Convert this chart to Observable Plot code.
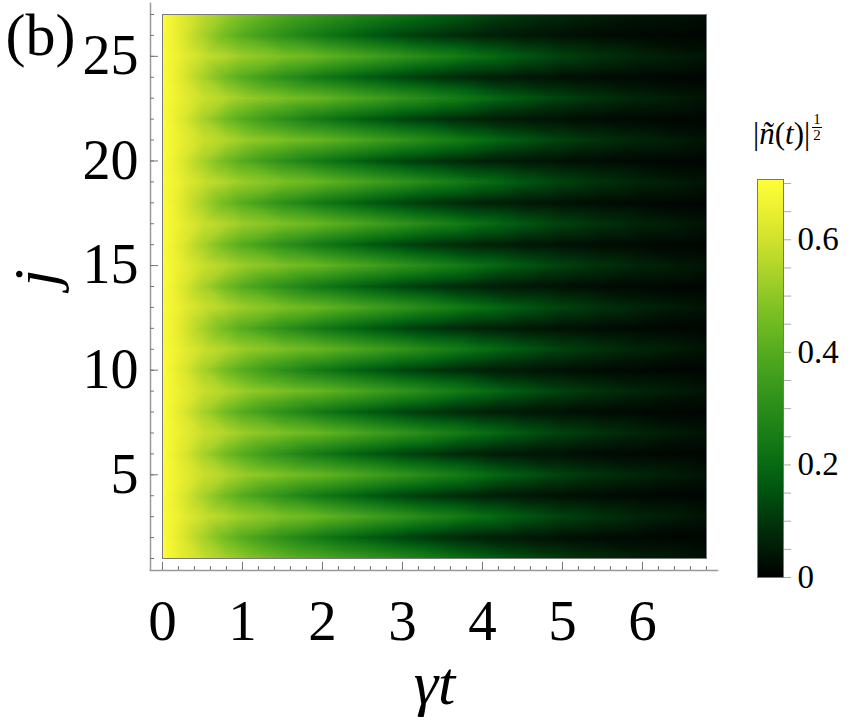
<!DOCTYPE html>
<html><head><meta charset="utf-8">
<script src="https://cdn.jsdelivr.net/npm/d3@7"></script>
<script src="https://cdn.jsdelivr.net/npm/@observablehq/plot@0.6"></script>
<style>
body{margin:0;background:#fff;}
#wrap{position:relative;width:856px;height:728px;overflow:hidden;font-family:"Liberation Serif",serif;color:#000;}
#main{position:absolute;left:0;top:0;}
#cbar{position:absolute;left:740px;top:0;}
#cbtitle{position:absolute;left:753px;top:118px;font-size:31px;white-space:nowrap;line-height:1;}
.frac{display:inline-flex;flex-direction:column;align-items:center;font-size:15px;line-height:1.0;vertical-align:top;margin-left:2px;position:relative;top:-6px;}
.frac span:first-child{border-bottom:1px solid #000;padding:0 1px;}
</style></head><body>
<div id="wrap"><div id="main"></div><div id="cbar"></div>
<div id="cbtitle">|<i>ñ</i>(<i>t</i>)|<span class="frac"><span>1</span><span>2</span></span></div></div>
<script>
// ---------- data ----------
const panelLabel = "(b)";
const xLabel = "γt";
const yLabel = "j";
const sites = [1,2,3,4,5,6,7,8,9,10,11,12,13,14,15,16,17,18,19,20,21,22,23,24,25,26,27];
const tSamples = [0, 0.2, 0.5, 0.8, 1.0, 1.5, 2.0, 2.5, 3.0, 3.5, 4.0, 4.5, 5.0, 5.5, 6.0, 6.8];
// |n(t)|^(1/2) along time, for odd (bright) and even (dark) sites, plus the two edge rows
const oddSite    = [0.70, 0.655, 0.59, 0.55, 0.52, 0.47, 0.43, 0.375, 0.32, 0.265, 0.21, 0.16, 0.12, 0.09, 0.066, 0.038];
const evenSite   = [0.70, 0.64, 0.54, 0.45, 0.40, 0.31, 0.235, 0.175, 0.125, 0.09, 0.062, 0.045, 0.032, 0.022, 0.016, 0.009];
const topSite    = [0.70, 0.645, 0.57, 0.51, 0.47, 0.39, 0.33, 0.275, 0.225, 0.18, 0.135, 0.1, 0.075, 0.056, 0.041, 0.024];
const bottomSite = [0.70, 0.65, 0.585, 0.53, 0.50, 0.43, 0.385, 0.34, 0.29, 0.235, 0.185, 0.14, 0.105, 0.078, 0.057, 0.032];
const vMax = 0.7071;
const xMajorTicks = [0,1,2,3,4,5,6];
const xMinorTicks = [0,0.2,0.4,0.6,0.8,1,1.2,1.4,1.6,1.8,2,2.2,2.4,2.6,2.8,3,3.2,3.4,3.6,3.8,4,4.2,4.4,4.6,4.8,5,5.2,5.4,5.6,5.8,6,6.2,6.4,6.6,6.8];
const yMajorTicks = [5,10,15,20,25];
const cbLabels = [0, 0.2, 0.4, 0.6];
const cbMinorTicks = [0,0.05,0.1,0.15,0.2,0.25,0.3,0.35,0.4,0.45,0.5,0.55,0.6,0.65,0.7];
const colorStopValues = [0, 0.05, 0.1, 0.15, 0.2, 0.25, 0.3, 0.35, 0.4, 0.45, 0.5, 0.55, 0.6, 0.65, 0.7071];
const colorStops = ["#000000","#001b06","#00360b","#005210","#086a12","#187c16","#2a8c1a","#3e9c1c","#55ab1e","#70ba22","#8ec726","#b0d52a","#d0e22c","#eaef30","#ffff38"];

// ---------- build table ----------
const cells = [];
for (const j of sites) {
  const row = j === 27 ? topSite : j === 1 ? bottomSite : (j % 2 ? oddSite : evenSite);
  tSamples.forEach((t, i) => cells.push({t, j, v: row[i]}));
}
const colorScale = {type: "linear", domain: colorStopValues, range: colorStops, interpolate: "rgb", clamp: true};
const axisGray = "#9a9a9a";
const baseStyle = {fontFamily: "'Liberation Serif', serif", background: "transparent", overflow: "visible", color: "black"};

const main = Plot.plot({
  width: 740, height: 728,
  marginLeft: 162, marginRight: 34, marginTop: 14, marginBottom: 170,
  style: baseStyle,
  x: {domain: [0, 6.8]},
  y: {domain: [1, 27]},
  color: colorScale,
  marks: [
    Plot.raster(cells, {x: "t", y: "j", fill: "v", interpolate: "barycentric", x1: 0, x2: 6.8, y1: 1, y2: 27, pixelSize: 1}),
    Plot.frame({stroke: "#7a7a7a", strokeWidth: 1}),
    Plot.frame({anchor: "left", insetLeft: -12, insetTop: -11, insetBottom: -12, stroke: axisGray, strokeWidth: 1.5}),
    Plot.frame({anchor: "bottom", insetBottom: -12, insetLeft: -12, insetRight: -11, stroke: axisGray, strokeWidth: 1.5}),
    Plot.axisX(xMinorTicks, {anchor: "bottom", tickSize: -4, dy: 12, stroke: "#777", fill: "none", label: null}),
    Plot.axisX(xMajorTicks, {anchor: "bottom", tickSize: -8, dy: 12, stroke: "#777", fill: "none", label: null}),
    Plot.axisX(xMajorTicks, {anchor: "bottom", tickSize: 0, tickPadding: 41, fontSize: 57, label: null, tickFormat: d => String(d)}),
    Plot.axisY(sites, {anchor: "left", tickSize: -4, dx: -12, stroke: "#777", fill: "none", label: null}),
    Plot.axisY(yMajorTicks, {anchor: "left", tickSize: -8, dx: -12, stroke: "#777", fill: "none", label: null}),
    Plot.axisY(yMajorTicks, {anchor: "left", tickSize: 0, tickPadding: 24, fontSize: 56, label: null, tickFormat: d => String(d)}),
    Plot.text([xLabel], {frameAnchor: "bottom", dy: 145, fontSize: 62, fontStyle: "italic"}),
    Plot.text([yLabel], {frameAnchor: "left", dx: -126, rotate: -90, fontSize: 62, fontStyle: "italic"}),
    Plot.text([panelLabel], {frameAnchor: "top-left", textAnchor: "start", lineAnchor: "top", dx: -157, dy: -2, fontSize: 60})
  ]
});
document.getElementById("main").appendChild(main);

const cb = Plot.plot({
  width: 116, height: 728,
  marginLeft: 17, marginRight: 73, marginTop: 179, marginBottom: 151,
  style: baseStyle,
  x: {domain: [0, 1], axis: null},
  y: {domain: [0, vMax], axis: null},
  color: colorScale,
  marks: [
    Plot.raster({fill: (x, y) => y, x1: 0, x2: 1, y1: 0, y2: vMax, pixelSize: 1}),
    Plot.frame({stroke: "#777", strokeWidth: 1}),
    Plot.axisY(cbMinorTicks, {anchor: "right", tickSize: 7, stroke: "#aaa", fill: "none", label: null}),
    Plot.axisY(cbLabels, {anchor: "right", tickSize: 0, tickPadding: 14, fontSize: 33, label: null, tickFormat: d => String(d)})
  ]
});
document.getElementById("cbar").appendChild(cb);
</script></body></html>
